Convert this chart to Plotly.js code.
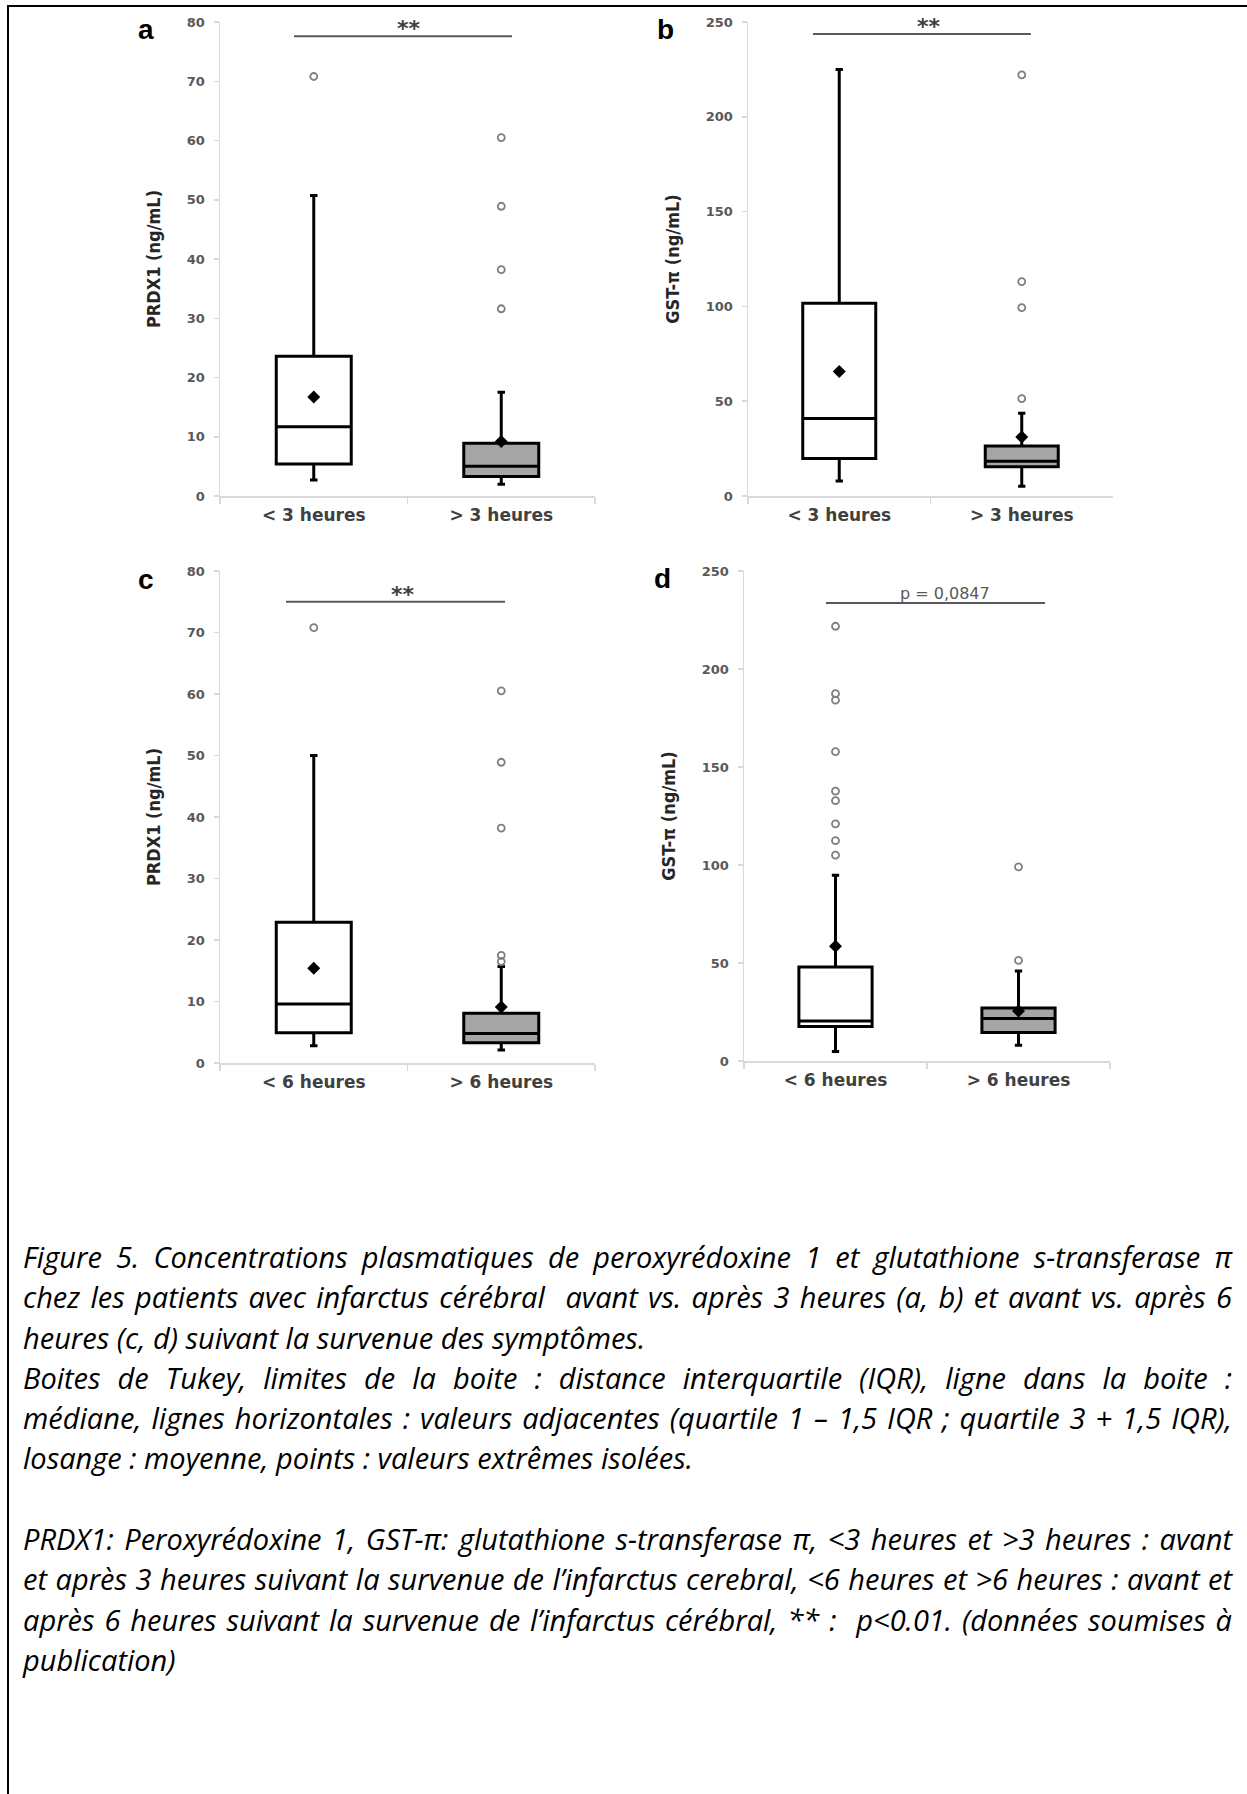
<!DOCTYPE html>
<html>
<head>
<meta charset="utf-8">
<script src="https://cdn.plot.ly/plotly-3.0.1.min.js"></script>
<style>
  html, body { margin:0; padding:0; background:#fff; width:1247px; height:1794px; overflow:hidden; }
  #plot { position:absolute; left:0; top:0; width:1247px; height:1794px; }
  #frame { position:absolute; left:7px; top:5px; width:2000px; height:3000px;
           border-left:2px solid #000; border-top:2px solid #000; pointer-events:none; z-index:3; }
  #caption { position:absolute; left:23px; top:1237px; width:1209px; z-index:2;
             font-family: "Open Sans", Lato, "Noto Sans", sans-serif; font-style:italic;
             font-size:25px; color:#000; }
  .l { height:40.3px; line-height:40.3px; text-align:left; white-space:normal; }
  .j { text-align:justify; text-align-last:justify; }
</style>
</head>
<body>
<div id="plot"></div>
<div id="frame"></div>
<div id="caption">
  <div class="l j">Figure 5. Concentrations plasmatiques de peroxyrédoxine 1 et glutathione s-transferase π</div>
  <div class="l j">chez les patients avec infarctus cérébral &nbsp;avant vs. après 3 heures (a, b) et avant vs. après 6</div>
  <div class="l">heures (c, d) suivant la survenue des symptômes.</div>
  <div class="l j">Boites de Tukey, limites de la boite : distance interquartile (IQR), ligne dans la boite :</div>
  <div class="l j">médiane, lignes horizontales : valeurs adjacentes (quartile 1 – 1,5 IQR ; quartile 3 + 1,5 IQR),</div>
  <div class="l">losange : moyenne, points : valeurs extrêmes isolées.</div>
  <div class="l">&nbsp;</div>
  <div class="l j">PRDX1: Peroxyrédoxine 1, GST-π: glutathione s-transferase π, &lt;3 heures et &gt;3 heures : avant</div>
  <div class="l j">et après 3 heures suivant la survenue de l’infarctus cerebral, &lt;6 heures et &gt;6 heures : avant et</div>
  <div class="l j">après 6 heures suivant la survenue de l’infarctus cérébral, ** : &nbsp;p&lt;0.01. (données soumises à</div>
  <div class="l">publication)</div>
</div>
<script>
// ---------------- DATA ----------------
const cats3 = ['< 3 heures', '> 3 heures'];
const cats6 = ['< 6 heures', '> 6 heures'];

// Panel a : PRDX1 (ng/mL), < 3 h vs > 3 h
const aQ1     = [5.4, 3.3];
const aMedian = [11.7, 5.0];
const aQ3     = [23.6, 8.9];
const aLow    = [2.7, 2.0];
const aHigh   = [50.7, 17.5];
const aMean   = [16.7, 9.2];
const aOut1   = [70.8];
const aOut2   = [60.5, 48.9, 38.2, 31.6];

// Panel b : GST-pi (ng/mL), < 3 h vs > 3 h
const bQ1     = [19.8, 15.4];
const bMedian = [40.9, 18.3];
const bQ3     = [101.7, 26.4];
const bLow    = [7.9, 5.1];
const bHigh   = [225.0, 43.7];
const bMean   = [65.7, 31.1];
const bOut1   = [];
const bOut2   = [222.1, 113.1, 99.4, 51.4];

// Panel c : PRDX1 (ng/mL), < 6 h vs > 6 h
const cQ1     = [4.9, 3.3];
const cMedian = [9.6, 4.8];
const cQ3     = [22.9, 8.1];
const cLow    = [2.8, 2.1];
const cHigh   = [50.0, 15.7];
const cMean   = [15.4, 9.1];
const cOut1   = [70.8];
const cOut2   = [60.5, 48.9, 38.2, 17.5, 16.5];

// Panel d : GST-pi (ng/mL), < 6 h vs > 6 h
const dQ1     = [17.6, 14.6];
const dMedian = [20.4, 21.7];
const dQ3     = [48.0, 27.1];
const dLow    = [4.9, 8.0];
const dHigh   = [94.8, 45.9];
const dMean   = [58.6, 25.5];
const dOut1   = [221.8, 187.4, 184.1, 157.8, 137.7, 132.8, 121.0, 112.4, 105.0];
const dOut2   = [99.0, 51.3];

const yTitles = ['PRDX1 (ng/mL)', 'GST-π (ng/mL)', 'PRDX1 (ng/mL)', 'GST-π (ng/mL)'];
const yRanges = [[0, 80], [0, 250], [0, 80], [0, 250]];
const yDtick  = [10, 50, 10, 50];
const panelLetters = ['a', 'b', 'c', 'd'];
const sigTexts = ['**', '**', '**', 'p = 0,0847'];
const sigLevels = [77.6, 243.7, 75.0, 233.7];

// ---------------- LAYOUT GEOMETRY (pixels) ----------------
const W = 1247, H = 1794;
const geo = [
  {x0:220, x1:595,  y0:22,  y1:496},
  {x0:748, x1:1113, y0:22,  y1:496},
  {x0:220, x1:595,  y0:571, y1:1063},
  {x0:744, x1:1110, y0:571, y1:1061}
];
const sigSpan = [[-0.105, 1.057], [-0.144, 1.05], [-0.148, 1.02], [-0.052, 1.145]];
const sigTextX = [0.508, 0.492, 0.476, 0.598];
const letterPos = [[146, 30], [665, 30], [146, 579], [662, 578]];

const panels = [
  {cats:cats3, q1:aQ1, med:aMedian, q3:aQ3, lo:aLow, hi:aHigh, mean:aMean, out:[aOut1, aOut2]},
  {cats:cats3, q1:bQ1, med:bMedian, q3:bQ3, lo:bLow, hi:bHigh, mean:bMean, out:[bOut1, bOut2]},
  {cats:cats6, q1:cQ1, med:cMedian, q3:cQ3, lo:cLow, hi:cHigh, mean:cMean, out:[cOut1, cOut2]},
  {cats:cats6, q1:dQ1, med:dMedian, q3:dQ3, lo:dLow, hi:dHigh, mean:dMean, out:[dOut1, dOut2]}
];
const fills = ['#ffffff', '#a5a5a5'];

const traces = [];
const layout = {
  width: W, height: H,
  margin: {l:0, r:0, t:0, b:0},
  paper_bgcolor: 'rgba(0,0,0,0)',
  plot_bgcolor: 'rgba(0,0,0,0)',
  showlegend: false,
  boxmode: 'overlay',
  shapes: [],
  annotations: []
};

panels.forEach((p, i) => {
  const n = i + 1;
  const xa = 'x' + (n === 1 ? '' : n), ya = 'y' + (n === 1 ? '' : n);
  const xKey = 'xaxis' + (n === 1 ? '' : n), yKey = 'yaxis' + (n === 1 ? '' : n);
  const g = geo[i];

  for (let k = 0; k < 2; k++) {
    traces.push({
      type: 'box', xaxis: xa, yaxis: ya,
      x: [p.cats[k]],
      q1: [p.q1[k]], median: [p.med[k]], q3: [p.q3[k]],
      lowerfence: [p.lo[k]], upperfence: [p.hi[k]],
      boxpoints: false, width: 0.4, whiskerwidth: 0.1,
      fillcolor: fills[k],
      line: {color: '#000000', width: 3},
      hoverinfo: 'skip'
    });
    if (p.out[k].length) {
      traces.push({
        type: 'scatter', mode: 'markers', xaxis: xa, yaxis: ya,
        x: p.out[k].map(() => p.cats[k]), y: p.out[k],
        marker: {symbol: 'circle-open', size: 7, color: '#7f7f7f', line: {width: 1.8, color: '#7f7f7f'}},
        hoverinfo: 'skip'
      });
    }
  }
  traces.push({
    type: 'scatter', mode: 'markers', xaxis: xa, yaxis: ya,
    x: p.cats, y: p.mean,
    marker: {symbol: 'diamond', size: 10, color: '#000000'},
    hoverinfo: 'skip'
  });

  layout[xKey] = {
    domain: [g.x0 / W, g.x1 / W],
    anchor: ya,
    type: 'category',
    categoryarray: p.cats,
    range: [-0.5, 1.5],
    showline: true, linecolor: '#d9d9d9', linewidth: 1.5,
    ticks: 'outside', tickson: 'boundaries', ticklen: 6, tickcolor: '#d9d9d9', tickwidth: 1.5,
    showgrid: false, zeroline: false,
    tickfont: {family: 'DejaVu Sans', size: 17, weight: 'bold', color: '#404040'},
    ticklabelstandoff: 3,
    fixedrange: true
  };
  layout[yKey] = {
    domain: [1 - g.y1 / H, 1 - g.y0 / H],
    anchor: xa,
    range: yRanges[i], dtick: yDtick[i], tick0: 0,
    showline: true, linecolor: '#d9d9d9', linewidth: 1.5,
    ticks: 'outside', ticklen: 5, tickcolor: '#d9d9d9', tickwidth: 1.5,
    showgrid: false, zeroline: false,
    tickfont: {family: 'DejaVu Sans', size: 13, weight: 'bold', color: '#595959'},
    ticklabelstandoff: 6,
    title: {text: yTitles[i], standoff: 21,
            font: {family: 'Liberation Sans Narrow, DejaVu Sans Condensed, sans-serif', size: 18, weight: 'bold', color: '#262626'}},
    fixedrange: true
  };

  layout.shapes.push({
    type: 'line', xref: xa, yref: ya,
    x0: sigSpan[i][0], x1: sigSpan[i][1], y0: sigLevels[i], y1: sigLevels[i],
    line: {color: '#595959', width: 2}
  });
  const isP = sigTexts[i].startsWith('p');
  layout.annotations.push({
    xref: xa, yref: ya, x: sigTextX[i], y: sigLevels[i],
    xanchor: 'center', yanchor: 'bottom', showarrow: false,
    text: sigTexts[i], yshift: isP ? -2 : -7,
    font: isP ? {family: 'DejaVu Sans', size: 16, color: '#595959'}
              : {family: 'DejaVu Sans', size: 22, weight: 'bold', color: '#404040'}
  });
  layout.annotations.push({
    xref: 'paper', yref: 'paper',
    x: letterPos[i][0] / W, y: 1 - letterPos[i][1] / H,
    xanchor: 'center', yanchor: 'middle', showarrow: false,
    text: panelLetters[i],
    font: {family: 'Liberation Sans, Arial, sans-serif', size: 28, weight: 'bold', color: '#000000'}
  });
});

Plotly.newPlot('plot', traces, layout, {staticPlot: true, displayModeBar: false});

// fit caption font so the widest row fills the text width (one row per line)
function fitCaption() {
  const cap = document.getElementById('caption');
  const lines = Array.from(cap.querySelectorAll('.l'));
  const probe = document.createElement('span');
  probe.style.cssText = 'position:absolute;visibility:hidden;white-space:nowrap;';
  cap.appendChild(probe);
  let maxW = 0;
  lines.forEach(l => { probe.innerHTML = l.innerHTML; maxW = Math.max(maxW, probe.getBoundingClientRect().width); });
  cap.removeChild(probe);
  const avail = 1196;
  const fs = parseFloat(getComputedStyle(cap).fontSize);
  cap.style.fontSize = Math.min(29, fs * avail / maxW).toFixed(2) + 'px';
}
if (document.fonts && document.fonts.ready) { document.fonts.ready.then(fitCaption); } else { fitCaption(); }
</script>
</body>
</html>
